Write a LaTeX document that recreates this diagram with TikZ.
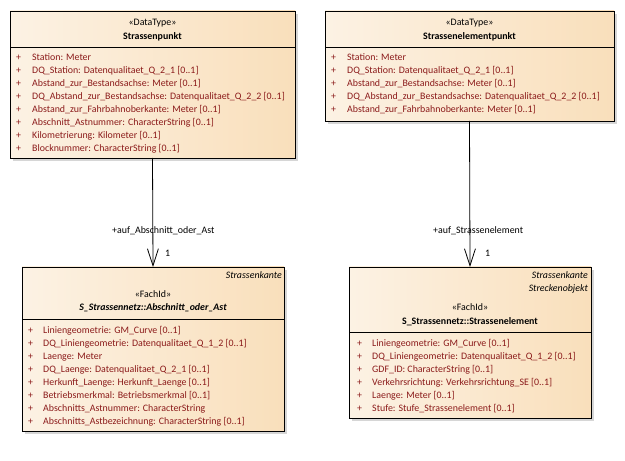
\documentclass[tikz,border=0pt]{standalone}
\usepackage{fontspec}
\setmainfont{Carlito}
\usetikzlibrary{shadows,arrows.meta}
\definecolor{attrcol}{HTML}{8B1A1A}
\definecolor{boxL}{HTML}{FCF2E4}
\definecolor{boxR}{HTML}{F9DFBB}
\definecolor{shadowgray}{HTML}{D6D6D6}
\newcommand{\dfont}{\fontsize{9.9bp}{11bp}\selectfont}
\tikzset{
  umlbox/.style={draw=black, line width=0.9bp, left color=boxL, right color=boxR,
    drop shadow={shadow xshift=3bp, shadow yshift=-3bp, fill=shadowgray, opacity=1},
    anchor=north west, inner sep=0pt, outer sep=0pt},
  txt/.style={inner sep=0pt, font=\dfont},
  attrtxt/.style={txt, text=attrcol, anchor=base west},
  headtxt/.style={txt, text=black, anchor=base},
  sep/.style={line width=0.8bp},
  assoc/.style={line width=0.8bp, -{Straight Barb[length=17bp,width=11bp,line width=0.8bp]}},
  roletxt/.style={txt, anchor=base west}
}
\newcommand{\attrlist}[5]{%
  \foreach \t [count=\i] in {#5} {
    \node[attrtxt] (#1-p\i) at (#2, #4+13*\i-13) {+};
    \node[attrtxt] (#1-a\i) at (#3, #4+13*\i-13) {\t};
  }%
}
\begin{document}
\begin{tikzpicture}[x=1bp,y=-1bp]
\useasboundingbox[fill=white] (0,0) rectangle (625,461);

% Boxes
\node[umlbox, minimum width=285bp, minimum height=147bp] (sp) at (10,11) {};
\node[umlbox, minimum width=289bp, minimum height=110bp] (sep) at (325,11) {};
\node[umlbox, minimum width=262bp, minimum height=164bp] (aoa) at (22,267) {};
\node[umlbox, minimum width=242bp, minimum height=151bp] (se) at (349,267) {};

% Separators
\draw[sep] (sp.west |- 0,47) -- (sp.east |- 0,47);
\draw[sep] (sep.west |- 0,47) -- (sep.east |- 0,47);
\draw[sep] (aoa.west |- 0,319) -- (aoa.east |- 0,319);
\draw[sep] (se.west |- 0,332) -- (se.east |- 0,332);

% Headers
\node[headtxt] (sp-st) at (152.5,26) {«DataType»};
\node[headtxt, font=\dfont\bfseries] (sp-nm) at (152.5,40) {Strassenpunkt};
\node[headtxt] (sep-st) at (469.5,26) {«DataType»};
\node[headtxt, font=\dfont\bfseries] (sep-nm) at (469.5,40) {Strassenelementpunkt};

\node[headtxt, anchor=base east, font=\dfont\itshape] (aoa-par) at (282,279) {Strassenkante};
\node[headtxt] (aoa-st) at (153,298) {«FachId»};
\node[headtxt, font=\dfont\bfseries\itshape] (aoa-nm) at (153,311) {S\_Strassennetz::Abschnitt\_oder\_Ast};

\node[headtxt, anchor=base east, font=\dfont\itshape] (se-par1) at (588,279) {Strassenkante};
\node[headtxt, anchor=base east, font=\dfont\itshape] (se-par2) at (588,292) {Streckenobjekt};
\node[headtxt] (se-st) at (470,311) {«FachId»};
\node[headtxt, font=\dfont\bfseries] (se-nm) at (470,324) {S\_Strassennetz::Strassenelement};

% Attributes
\attrlist{spA}{16}{32}{61}{Station: Meter, DQ\_Station: Datenqualitaet\_Q\_2\_1 [0..1], Abstand\_zur\_Bestandsachse: Meter [0..1], DQ\_Abstand\_zur\_Bestandsachse: Datenqualitaet\_Q\_2\_2 [0..1], Abstand\_zur\_Fahrbahnoberkante: Meter [0..1], Abschnitt\_Astnummer: CharacterString [0..1], Kilometrierung: Kilometer [0..1], Blocknummer: CharacterString [0..1]}
\attrlist{sepA}{331}{347}{61}{Station: Meter, DQ\_Station: Datenqualitaet\_Q\_2\_1 [0..1], Abstand\_zur\_Bestandsachse: Meter [0..1], DQ\_Abstand\_zur\_Bestandsachse: Datenqualitaet\_Q\_2\_2 [0..1], Abstand\_zur\_Fahrbahnoberkante: Meter [0..1]}
\attrlist{aoaA}{28}{43}{333}{Liniengeometrie: GM\_Curve [0..1], DQ\_Liniengeometrie: Datenqualitaet\_Q\_1\_2 [0..1], Laenge: Meter, DQ\_Laenge: Datenqualitaet\_Q\_2\_1 [0..1], Herkunft\_Laenge: Herkunft\_Laenge [0..1], Betriebsmerkmal: Betriebsmerkmal [0..1], Abschnitts\_Astnummer: CharacterString, Abschnitts\_Astbezeichnung: CharacterString [0..1]}
\attrlist{seA}{357}{372}{346}{Liniengeometrie: GM\_Curve [0..1], DQ\_Liniengeometrie: Datenqualitaet\_Q\_1\_2 [0..1], GDF\_ID: CharacterString [0..1], Verkehrsrichtung: Verkehrsrichtung\_SE [0..1], Laenge: Meter [0..1], Stufe: Stufe\_Strassenelement [0..1]}

% Associations
\draw[assoc] (sp.south) -- (aoa.north);
\draw[assoc] (sep.south) -- (se.north);
\node[roletxt] (r1) at (112,234) {+auf\_Abschnitt\_oder\_Ast};
\node[roletxt] (m1) at (165,257) {1};
\node[roletxt] (r2) at (433,234) {+auf\_Strassenelement};
\node[roletxt] (m2) at (485,257) {1};
\end{tikzpicture}
\end{document}
